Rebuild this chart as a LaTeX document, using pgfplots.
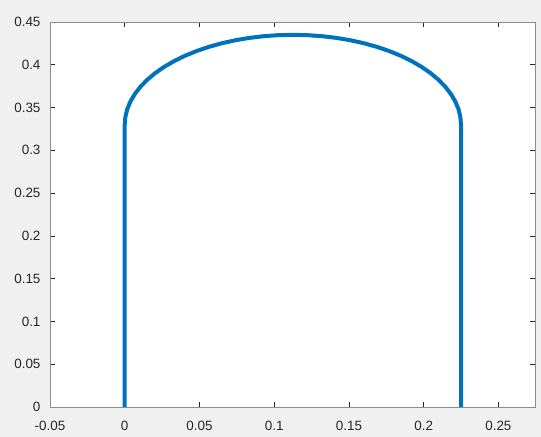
\documentclass[border=0pt]{standalone}
\usepackage{fontspec}
\setmainfont{Liberation Sans}
\usepackage{pgfplots}
\pgfplotsset{compat=1.18}
\usetikzlibrary{backgrounds}
\definecolor{mblue}{rgb}{0,0.447,0.741}
\definecolor{figbg}{rgb}{0.94,0.94,0.94}
\definecolor{axcol}{rgb}{0.15,0.15,0.15}
\begin{document}
\begin{tikzpicture}
\begin{axis}[
  at={(0,0)}, anchor=south west,
  scale only axis,
  width=485bp, height=385bp,
  xmin=-0.05, xmax=0.2745,
  ymin=0, ymax=0.45,
  axis background/.style={fill=white},
  axis line style={draw=black!45, line width=0.7bp},
  tick style={draw=axcol, line width=0.6bp},
  tick align=inside,
  major tick length=5bp,
  xtick={-0.05,0,0.05,0.1,0.15,0.2,0.25},
  xticklabels={-0.05,0,0.05,0.1,0.15,0.2,0.25},
  ytick={0,0.05,0.1,0.15,0.2,0.25,0.3,0.35,0.4,0.45},
  yticklabels={0,0.05,0.1,0.15,0.2,0.25,0.3,0.35,0.4,0.45},
  ticklabel style={font=\fontsize{13.5}{15}\selectfont, text=axcol},
  xticklabel style={yshift=-11bp},
  yticklabel style={xshift=-6bp},
]
\addplot[mblue, line width=4bp, line join=round] coordinates {
(0,0) (0,0.33)
(0.000429,0.33915) (0.001709,0.34823) (0.003833,0.35718) (0.006785,0.36591)
(0.010540,0.37438) (0.015072,0.3825) (0.020346,0.39023) (0.026321,0.39749)
(0.032950,0.40425) (0.040186,0.41043) (0.047972,0.41601) (0.05625,0.42093)
(0.064955,0.42516) (0.074023,0.42867) (0.083383,0.43142) (0.092964,0.43341)
(0.102695,0.4346) (0.1125,0.435)
(0.122305,0.4346) (0.132036,0.43341) (0.141617,0.43142) (0.150977,0.42867)
(0.160045,0.42516) (0.16875,0.42093) (0.177028,0.41601) (0.184814,0.41043)
(0.19205,0.40425) (0.198679,0.39749) (0.204654,0.39023) (0.209928,0.3825)
(0.21446,0.37438) (0.218215,0.36591) (0.221167,0.35718) (0.223291,0.34823)
(0.224571,0.33915) (0.225,0.33) (0.225,0)
};
\end{axis}
\begin{pgfonlayer}{background}
\fill[figbg] (-50bp,-30bp) rectangle (491bp,407bp);
\end{pgfonlayer}
\end{tikzpicture}
\end{document}
